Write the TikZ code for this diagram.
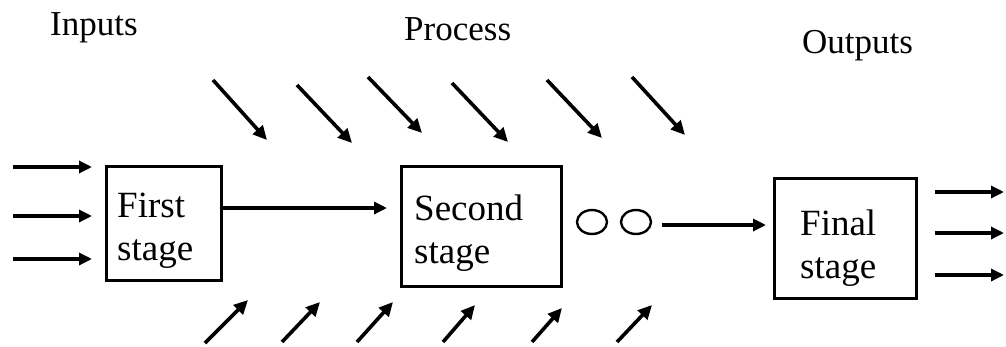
\documentclass[tikz,border=0pt]{standalone}
\usepackage{fontspec}
\setmainfont{Liberation Serif}
\usetikzlibrary{arrows.meta,shapes.geometric}

\tikzset{
  px/.style={x=1pt,y=-1pt},
  stagebox/.style={draw,line width=2.8pt,rectangle,inner sep=0pt,anchor=north west},
  stagetext/.style={anchor=base west,inner sep=0pt,align=left,font=\fontsize{37}{43}\selectfont},
  heading/.style={anchor=base west,inner sep=0pt,font=\fontsize{35}{40}\selectfont},
  flow/.style={line width=3.2pt,-{Triangle[length=13pt,width=12pt]}},
  factor/.style={line width=3.6pt,-{Triangle[length=14pt,width=13pt]}},
  ring/.style={draw,line width=2.4pt,ellipse,minimum width=30pt,minimum height=24pt,inner sep=0pt}
}

\begin{document}
\begin{tikzpicture}[px]
\useasboundingbox (0,0) rectangle (1006,346);

% headings
\node[heading] (hin)  at (50,35)  {Inputs};
\node[heading] (hpr)  at (404,40) {Process};
\node[heading] (hout) at (802,53) {Outputs};

% the three stages
\node[stagebox,minimum width=115pt,minimum height=114pt] (b1) at (105,165) {};
\node[stagebox,minimum width=160pt,minimum height=120pt] (b2) at (400,165) {};
\node[stagebox,minimum width=142pt,minimum height=120pt] (b3) at (773,177) {};

\node[stagetext] (t1a) at (117,217) {First};
\node[stagetext] (t1b) at (117,260) {stage};
\node[stagetext] (t2a) at (414,220) {Second};
\node[stagetext] (t2b) at (414,263) {stage};
\node[stagetext] (t3a) at (800,235) {Final};
\node[stagetext] (t3b) at (800,278) {stage};

% inputs entering the first stage
\foreach \i/\y in {1/167,2/216,3/259}{
  \coordinate (in\i) at (13,\y);
  \coordinate (inE\i) at (92,\y);
  \draw[flow] (in\i) -- (inE\i);
}

% first stage to second stage
\coordinate (m1) at (220,208);
\coordinate (m2) at (387,208);
\draw[flow] (m1) -- (m2);

% repetition marks after the second stage
\node[ring] (o1) at (592,222) {};
\node[ring] (o2) at (636,222) {};
\coordinate (m3) at (662,225);
\coordinate (m4) at (766,225);
\draw[flow] (m3) -- (m4);

% outputs leaving the final stage
\foreach \i/\y in {1/192,2/233,3/275}{
  \coordinate (out\i) at (935,\y);
  \coordinate (outE\i) at (1004,\y);
  \draw[flow] (out\i) -- (outE\i);
}

% influences from above
\foreach \i/\ax/\ay/\bx/\by in {1/213/80/267/140, 2/297/85/352/143, 3/368/77/422/133,
                                 4/452/83/508/142, 5/547/80/602/138, 6/632/77/685/135}{
  \coordinate (ta\i) at (\ax,\ay);
  \coordinate (tb\i) at (\bx,\by);
  \draw[factor] (ta\i) -- (tb\i);
}

% influences from below
\foreach \i/\ax/\ay/\bx/\by in {1/205/343/248/300, 2/282/342/320/302, 3/357/342/393/302,
                                 4/443/342/475/305, 5/532/342/562/308, 6/617/342/652/305}{
  \coordinate (ba\i) at (\ax,\ay);
  \coordinate (bb\i) at (\bx,\by);
  \draw[factor] (ba\i) -- (bb\i);
}
\end{tikzpicture}
\end{document}
